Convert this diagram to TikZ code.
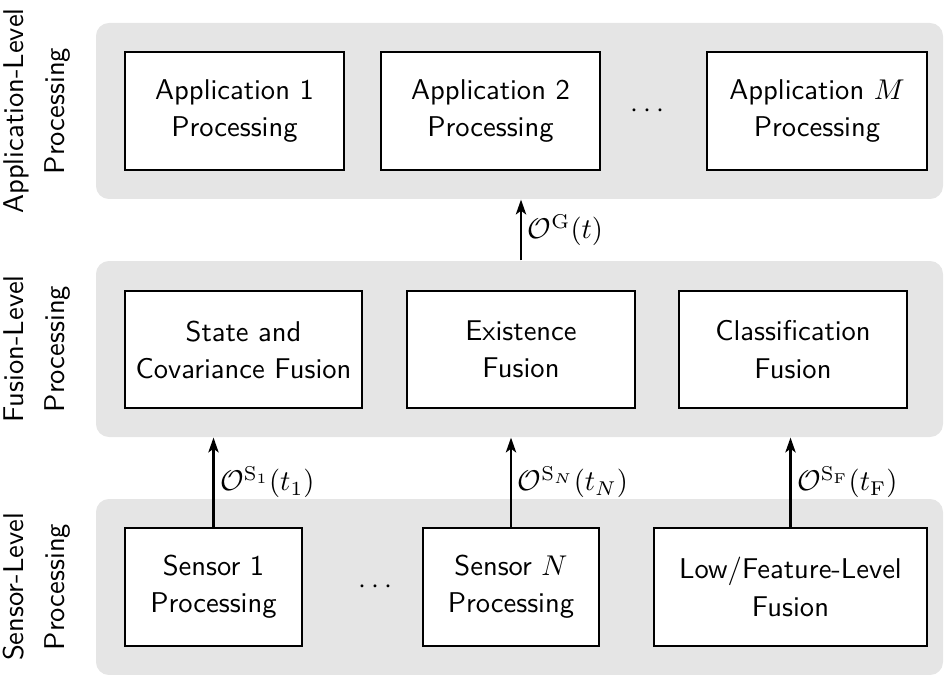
\documentclass[tikz,border=0pt]{standalone}
\usepackage{amsmath}
\usetikzlibrary{arrows.meta,positioning}

\begin{document}
\begin{tikzpicture}[x=0.35pt, y=-0.35pt,
    font=\sffamily\fontsize{10}{13}\selectfont,
    layer/.style={fill=black!10, rounded corners=4.5pt, inner sep=0pt,
      minimum width=296.45pt, minimum height=61.6pt},
    box/.style={draw, semithick, fill=white, align=center, inner sep=0pt,
      minimum height=41.1pt},
    side/.style={rotate=90, align=center,
      font=\sffamily\fontsize{10}{14.3}\selectfont},
    arrow/.style={-{Stealth[length=5.2pt, width=3.6pt, inset=1.3pt]}, thick},
    lbl/.style={right, inner sep=2pt}
  ]
    \useasboundingbox (0,0) rectangle (944,675);

    % processing levels
    \node[layer] (app) at (519.5,111) {};
    \node[layer] (fusion) at (519.5,349) {};
    \node[layer] (sensor) at (519.5,587) {};

    \node[side] (applbl) at (37,111) {Application-Level\\Processing};
    \node[side] (fuslbl) at (37,349) {Fusion-Level\\Processing};
    \node[side] (senslbl) at (37,587) {Sensor-Level\\Processing};

    % application level
    \node[box, minimum width=76.65pt] (app1) at (234.5,111) {Application 1\\Processing};
    \node[box, minimum width=76.65pt] (app2) at (490.5,111) {Application 2\\Processing};
    \node (appdots) at (650,111) {$\cdots$};
    \node[box, minimum width=77pt] (appm) at (817,111) {Application $M$\\Processing};

    % fusion level
    \node[box, minimum width=82.95pt] (state) at (243.5,349.5) {State and\\Covariance Fusion};
    \node[box, minimum width=79.8pt] (exist) at (521,349.5) {Existence\\Fusion};
    \node[box, minimum width=79.8pt] (class) at (793,349.5) {Classification\\Fusion};

    % sensor level
    \node[box, minimum width=61.95pt] (sens1) at (213.5,587) {Sensor 1\\Processing};
    \node (sensdots) at (378,587) {$\cdots$};
    \node[box, minimum width=61.6pt] (sensn) at (511,587) {Sensor $N$\\Processing};
    \node[box, minimum width=95.55pt] (lowfeat) at (790.5,587) {Low/Feature-Level\\Fusion};

    % object lists
    \draw[arrow] (fusion.north -| exist) -- node[lbl] {$\mathcal{O}^{\mathrm{G}}(t)$} (app.south -| exist);
    \draw[arrow] (sens1.north) -- node[lbl] {$\mathcal{O}^{\mathrm{S}_1}(t_1)$} (sens1.north |- fusion.south);
    \draw[arrow] (sensn.north) -- node[lbl] {$\mathcal{O}^{\mathrm{S}_N}(t_N)$} (sensn.north |- fusion.south);
    \draw[arrow] (lowfeat.north) -- node[lbl] {$\mathcal{O}^{\mathrm{S}_\mathrm{F}}(t_\mathrm{F})$} (lowfeat.north |- fusion.south);
  \end{tikzpicture}
\end{document}
